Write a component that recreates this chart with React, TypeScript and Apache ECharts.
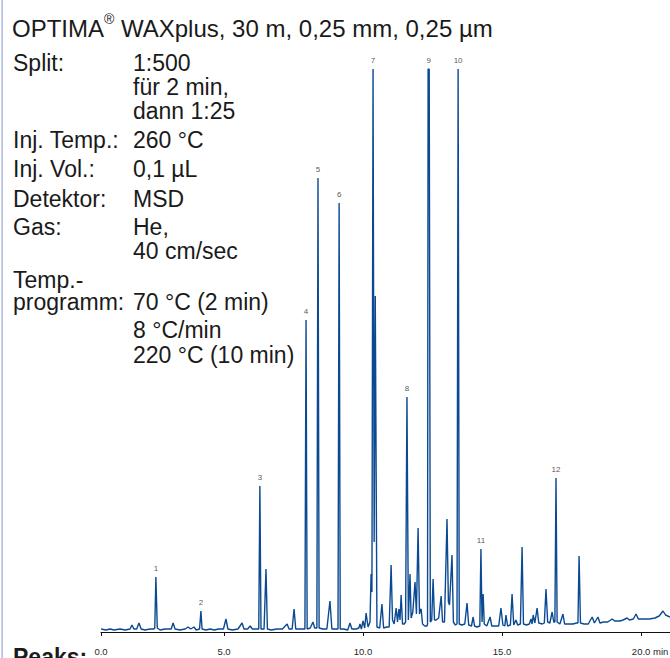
import React, { useEffect, useRef } from "react";
import * as echarts from "echarts";

// ---- data (time in min, detector signal in arbitrary units) ----
const TRACE: [number, number][] = [
  [0.58, 3], [0.75, 2], [0.9, 3], [1.05, 2], [1.26, 3], [1.45, 2], [1.62, 3], [1.69, 7], [1.76, 3],
  [1.86, 3], [1.94, 9], [2.02, 3], [2.16, 2], [2.34, 3], [2.48, 3],
  [2.51, 4], [2.55, 55], [2.6, 4], [2.7, 2], [2.88, 3],
  [3.1, 3], [3.17, 9], [3.24, 3], [3.42, 2], [3.6, 3], [3.71, 5], [3.8, 3], [3.92, 5], [4.0, 2], [4.12, 3],
  [4.14, 3], [4.17, 21], [4.21, 3], [4.35, 2], [4.5, 3], [4.65, 2], [4.8, 3], [4.98, 3], [5.07, 13],
  [5.14, 3], [5.3, 2], [5.5, 3], [5.65, 9], [5.72, 3], [5.85, 3], [5.94, 6], [6.02, 3], [6.15, 3],
  [6.25, 3], [6.29, 146], [6.33, 3], [6.44, 3], [6.51, 63], [6.56, 3], [6.7, 2], [6.9, 3], [7.1, 3],
  [7.27, 8], [7.34, 3], [7.45, 3], [7.52, 23], [7.58, 3], [7.7, 3], [7.84, 3],
  [7.91, 3], [7.95, 312], [7.99, 3], [8.1, 4], [8.2, 10], [8.26, 4], [8.34, 4],
  [8.38, 454], [8.42, 4], [8.55, 3], [8.7, 3], [8.81, 31], [8.88, 3], [9.0, 3],
  [9.1, 3], [9.14, 429], [9.18, 3], [9.3, 3], [9.45, 2], [9.53, 9], [9.6, 3], [9.75, 3], [9.85, 4],
  [9.89, 8], [9.94, 3], [10.0, 11], [10.06, 4], [10.11, 19], [10.18, 5], [10.25, 10], [10.29, 58],
  [10.32, 40], [10.36, 563], [10.4, 90], [10.44, 336], [10.5, 5], [10.6, 4], [10.68, 28], [10.74, 4],
  [10.85, 5], [10.94, 5], [11.01, 67], [11.06, 12], [11.12, 8], [11.19, 24], [11.24, 10], [11.29, 23],
  [11.33, 12], [11.37, 37], [11.42, 8], [11.48, 8],
  [11.53, 10], [11.58, 235], [11.63, 12], [11.69, 58], [11.73, 14], [11.79, 20], [11.87, 50], [11.92, 18],
  [11.98, 104], [12.03, 18], [12.06, 22], [12.09, 23], [12.14, 8], [12.22, 6], [12.3, 6],
  [12.32, 8], [12.34, 563], [12.38, 563], [12.42, 10], [12.47, 12], [12.52, 53], [12.57, 12], [12.63, 12],
  [12.72, 14], [12.81, 36], [12.86, 10], [12.93, 10], [13.02, 113], [13.07, 30], [13.11, 27], [13.2, 77],
  [13.25, 10], [13.32, 7],
  [13.38, 8], [13.42, 563], [13.46, 8], [13.55, 7], [13.66, 8], [13.74, 29], [13.8, 7], [13.9, 6],
  [13.96, 15], [14.01, 6], [14.1, 5], [14.2, 6],
  [14.24, 83], [14.28, 10], [14.32, 38], [14.36, 8], [14.45, 6], [14.57, 15], [14.63, 6], [14.75, 6],
  [14.88, 6], [14.96, 24], [15.03, 7], [15.1, 6], [15.14, 17], [15.2, 6], [15.3, 7], [15.36, 38],
  [15.42, 7], [15.5, 12], [15.56, 7], [15.66, 8], [15.72, 85], [15.77, 8], [15.88, 7], [15.98, 8],
  [16.04, 13], [16.08, 8], [16.12, 17], [16.18, 9], [16.26, 24], [16.32, 9], [16.45, 8], [16.52, 9],
  [16.58, 43], [16.64, 10], [16.72, 9], [16.8, 20], [16.86, 10],
  [16.9, 10], [16.94, 154], [16.98, 10], [17.08, 8], [17.19, 18], [17.25, 8], [17.4, 8], [17.55, 8],
  [17.68, 9], [17.73, 9], [17.77, 76], [17.82, 9], [17.95, 8], [18.1, 8], [18.24, 15], [18.32, 9],
  [18.45, 15], [18.52, 9], [18.65, 10], [18.8, 10], [18.96, 13], [19.05, 11], [19.24, 11], [19.35, 12],
  [19.5, 14], [19.58, 12], [19.72, 13], [19.82, 18], [19.9, 13], [20.1, 13], [20.3, 13], [20.5, 14],
  [20.65, 16], [20.79, 21], [20.88, 17], [21.04, 15],
];

const PEAK_NAMES = ["1", "2", "3", "4", "5", "6", "7", "8", "9", "10", "11", "12"];
const PEAK_TIMES = [2.55, 4.17, 6.29, 7.95, 8.38, 9.14, 10.36, 11.58, 12.36, 13.42, 14.24, 16.94];
const PEAK_HEIGHTS = [55, 21, 146, 312, 454, 429, 563, 235, 563, 563, 83, 154];

const X_MIN = 0.576;
const X_MAX = 21.04;
const Y_MAX = 563;
const TICK_VALUES = [0.576, 5, 10, 15, 20];
const TICK_LABELS = ["0.0", "5.0", "10.0", "15.0", "20.0 min"];

const TITLE_MAIN = "OPTIMA";
const TITLE_SUP = "®";
const TITLE_REST = " WAXplus, 30 m, 0,25 mm, 0,25 µm";

const LEFT_LINES = ["Split:", "", "", "Inj. Temp.:", "Inj. Vol.:", "Detektor:", "Gas:", "", "Temp.-", "programm:", "", ""];
const RIGHT_LINES = ["1:500", "für 2 min,", "dann 1:25", "260 °C", "0,1 µL", "MSD", "He,", "40 cm/sec", "", "70 °C (2 min)", "8 °C/min", "220 °C (10 min)"];
const PEAKS_HEADING = "Peaks:";

// ---- layout ----
const ROW_BASELINES = [71, 95, 119, 148, 177, 207, 235, 259, 288, 310, 338, 363];
const FONT = "'Liberation Sans', Arial, Helvetica, sans-serif";
const TRACE_COLOR = "#0b4a92";
const TEXT_COLOR = "#1a1a1a";

export default function App() {
  const ref = useRef<HTMLDivElement>(null);

  useEffect(() => {
    if (!ref.current) return;
    const chart = echarts.init(ref.current, undefined, { renderer: "svg" });

    const textStyle = (t: string) => ({
      text: t,
      font: `23px ${FONT}`,
      lineHeight: 20,
      fill: TEXT_COLOR,
      verticalAlign: "middle",
      align: "left",
    });

    const textEls: any[] = [];
    LEFT_LINES.forEach((t, i) => {
      if (!t) return;
      textEls.push({ type: "text", x: 13, y: ROW_BASELINES[i] - 8, style: textStyle(t) });
    });
    RIGHT_LINES.forEach((t, i) => {
      if (!t) return;
      textEls.push({ type: "text", x: 133, y: ROW_BASELINES[i] - 8, style: textStyle(t) });
    });

    chart.setOption({
      animation: false,
      grid: { left: 101, right: 0, top: 69, bottom: 26, containLabel: false, outerBoundsMode: "none" },
      xAxis: {
        type: "value",
        min: X_MIN,
        max: X_MAX,
        offset: 10,
        splitLine: { show: false },
        axisLine: { show: true, lineStyle: { color: "#111", width: 1 } },
        axisTick: { show: true, length: 4, customValues: TICK_VALUES, lineStyle: { color: "#111" } },
        axisLabel: {
          customValues: TICK_VALUES,
          showMinLabel: true,
          showMaxLabel: true,
          margin: 4,
          fontSize: 9.5,
          fontFamily: FONT,
          color: "#1f1f1f",
          formatter: (v: number) => {
            let idx = 0;
            let best = Infinity;
            TICK_VALUES.forEach((tv, i) => {
              const d = Math.abs(tv - v);
              if (d < best) { best = d; idx = i; }
            });
            return idx === TICK_VALUES.length - 1 ? `{pad|}${TICK_LABELS[idx]}` : TICK_LABELS[idx];
          },
          rich: { pad: { width: 18 } },
        },
      },
      yAxis: { type: "value", min: 0, max: Y_MAX, show: false },
      series: [
        {
          type: "line",
          data: TRACE,
          showSymbol: false,
          symbol: "none",
          lineStyle: { color: TRACE_COLOR, width: 1.4 },
          silent: true,
          clip: true,
        },
        {
          type: "scatter",
          data: PEAK_NAMES.map((n, i) => ({ name: n, value: [PEAK_TIMES[i], PEAK_HEIGHTS[i]] })),
          symbolSize: 1,
          itemStyle: { color: "rgba(0,0,0,0)" },
          silent: true,
          label: {
            show: true,
            position: "top",
            distance: 4,
            formatter: "{b}",
            fontSize: 8,
            fontFamily: FONT,
            color: "#2a2a2a",
          },
        },
      ],
      graphic: [
        {
          type: "rect",
          shape: { x: 1.5, y: 0, width: 1.2, height: 658 },
          style: { fill: "#9aa5d3" },
          silent: true,
        },
        {
          type: "text",
          x: 12,
          y: 26,
          style: {
            text: `{a|${TITLE_MAIN}}{s|${TITLE_SUP}}{a|${TITLE_REST}}`,
            verticalAlign: "middle",
            align: "left",
            rich: {
              a: { fontSize: 24, fontFamily: FONT, fill: TEXT_COLOR, verticalAlign: "bottom", lineHeight: 28 },
              s: { fontSize: 14, fontFamily: FONT, fill: TEXT_COLOR, verticalAlign: "top", lineHeight: 14 },
            },
          },
        },
        ...textEls,
        {
          type: "text",
          x: 13,
          y: 657,
          style: { text: PEAKS_HEADING, font: `bold 23px ${FONT}`, fill: TEXT_COLOR, verticalAlign: "middle", align: "left" },
        },
      ],
    });

    return () => chart.dispose();
  }, []);

  return (
    <div
      ref={ref}
      style={{ position: "fixed", left: 0, top: 0, width: 670, height: 658, background: "#fff" }}
    />
  );
}
